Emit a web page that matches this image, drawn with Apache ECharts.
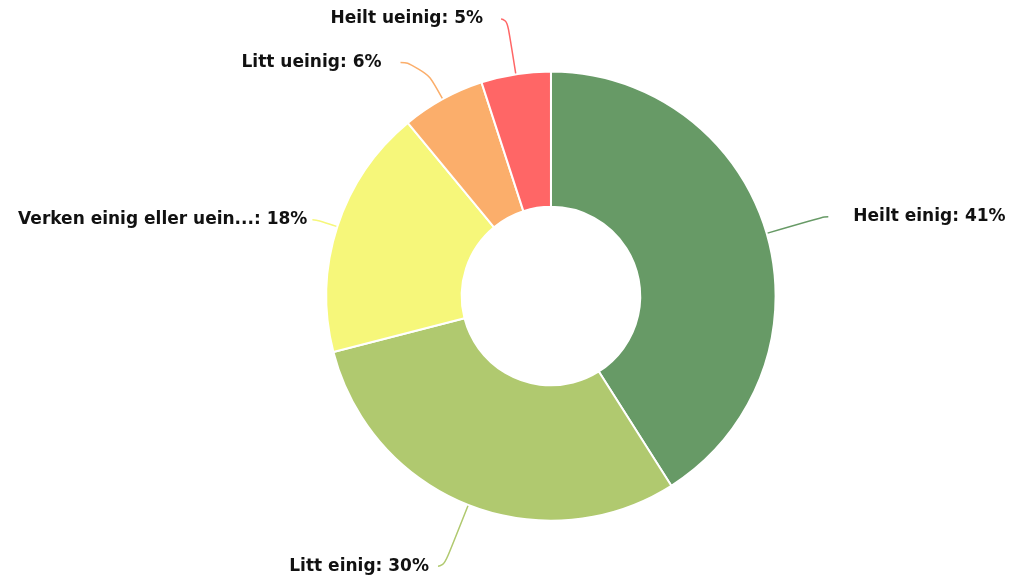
<!DOCTYPE html>
<html>
<head>
<meta charset="utf-8">
<style>
  html, body { margin: 0; padding: 0; background: #fff; }
  #chart { width: 1026px; height: 576px; }
</style>
<script src="https://cdn.jsdelivr.net/npm/echarts@6/dist/echarts.min.js"></script>
</head>
<body>
<div id="chart"></div>
<script>
  // svarkategorier og andeler (%)
  var categories = ['Heilt einig', 'Litt einig', 'Verken einig eller ueinig', 'Litt ueinig', 'Heilt ueinig'];
  var values = [41, 30, 18, 6, 5];
  var colors = ['#679a66', '#b0c96f', '#f6f77a', '#fbae6b', '#ff6666'];

  // etikettlinjer per sektor (lengd1, lengd2, luft til tekst)
  var lineTweaks = [
    { length: 60, length2: 4, pad: 20 },
    { length: 66, length2: 6, pad: 4 },
    { length: 22, length2: 4, pad: 0 },
    { length: 42, length2: 22, pad: 14 },
    { length: 56, length2: 6, pad: 13 }
  ];

  function shortName(n) {
    return n.length > 23 ? n.slice(0, 23) + '...' : n;
  }

  var chart = echarts.init(document.getElementById('chart'), null, { renderer: 'canvas' });
  chart.setOption({
    animation: false,
    series: [{
      type: 'pie',
      center: ['53.7%', '51.4%'],
      radius: ['31%', '78%'],
      startAngle: 90,
      clockwise: true,
      itemStyle: { borderColor: '#fff', borderWidth: 2 },
      label: {
        color: '#111',
        fontFamily: 'DejaVu Sans',
        fontSize: 17,
        fontWeight: 'bold',
        overflow: 'none',
        formatter: function (p) { return shortName(p.name) + ': ' + p.value + '%'; }
      },
      labelLine: { smooth: 0.7, lineStyle: { width: 1.5 } },
      data: categories.map(function (c, i) {
        var tw = lineTweaks[i];
        return {
          name: c,
          value: values[i],
          itemStyle: { color: colors[i] },
          label: { padding: [0, tw.pad] },
          labelLine: { length: tw.length, length2: tw.length2 }
        };
      })
    }]
  });
</script>
</body>
</html>
